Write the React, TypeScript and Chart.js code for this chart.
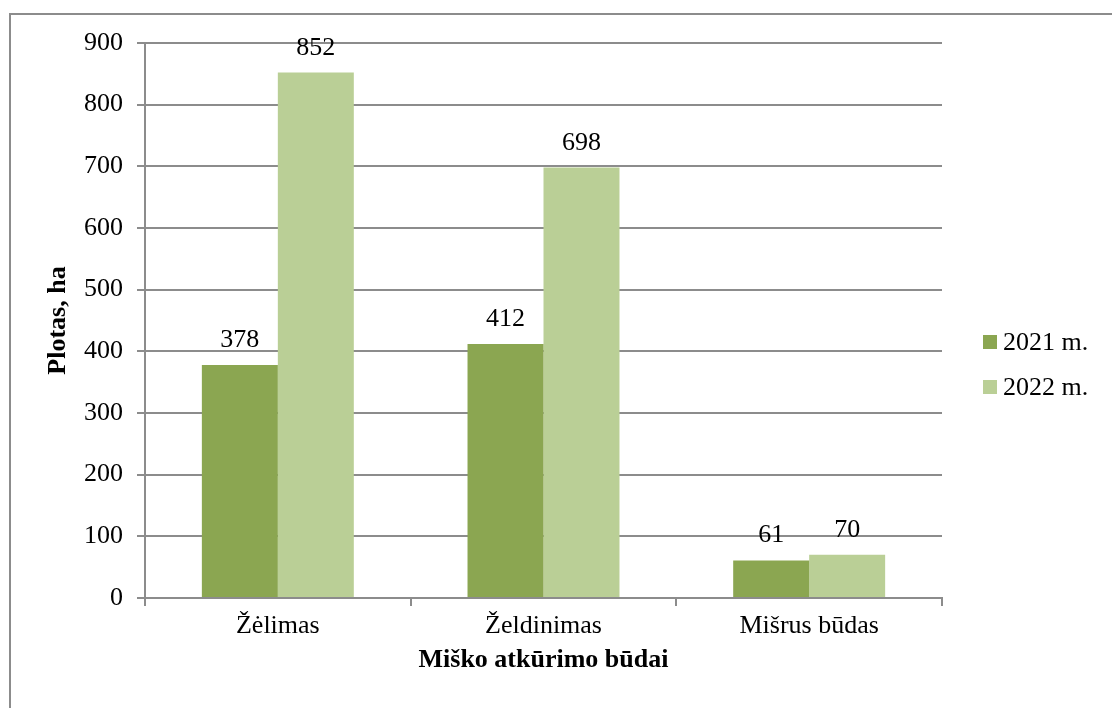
import React, { useEffect, useRef } from "react";
import { Chart, registerables } from "chart.js";

Chart.register(...registerables);

const categories = ["Žėlimas", "Želdinimas", "Mišrus būdas"];
const seriesNames = ["2021 m.", "2022 m."];
const values2021 = [378, 412, 61];
const values2022 = [852, 698, 70];
const seriesColors = ["#8BA651", "#BACF96"];
const yTicks = [0, 100, 200, 300, 400, 500, 600, 700, 800, 900];

const FONT = "'Liberation Serif', 'Times New Roman', serif";
const GRID = "#8c8c8c";
const TEXT_SIZE = 26;
const TITLE_SIZE = 26;

const framePlugin = {
  id: "frame",
  beforeDraw(chart: any) {
    const ctx = chart.ctx;
    ctx.save();
    ctx.fillStyle = "#ffffff";
    ctx.fillRect(0, 0, chart.width, chart.height);
    ctx.strokeStyle = "#8c8c8c";
    ctx.lineWidth = 2;
    ctx.strokeRect(10, 14, chart.width + 50, chart.height + 50);
    ctx.restore();
  },
};

const labelsPlugin = {
  id: "valueLabels",
  afterDatasetsDraw(chart: any) {
    const ctx = chart.ctx;
    ctx.save();
    ctx.font = `${TEXT_SIZE}px ${FONT}`;
    ctx.fillStyle = "#000";
    ctx.textAlign = "center";
    ctx.textBaseline = "alphabetic";
    chart.data.datasets.forEach((ds: any, i: number) => {
      const meta = chart.getDatasetMeta(i);
      meta.data.forEach((bar: any, j: number) => {
        ctx.fillText(String(ds.data[j]), bar.x, bar.y - 18);
      });
    });
    ctx.restore();
  },
};

const legendPlugin = {
  id: "customLegend",
  afterDraw(chart: any) {
    const ctx = chart.ctx;
    ctx.save();
    ctx.font = `${TEXT_SIZE}px ${FONT}`;
    ctx.textAlign = "left";
    ctx.textBaseline = "middle";
    chart.data.datasets.forEach((ds: any, i: number) => {
      const cy = 342 + i * 45;
      ctx.fillStyle = ds.backgroundColor;
      ctx.fillRect(983, cy - 7, 14, 14);
      ctx.fillStyle = "#000";
      ctx.fillText(ds.label, 1003, cy + 1);
    });
    ctx.restore();
  },
};

export default function App() {
  const ref = useRef<HTMLCanvasElement | null>(null);

  useEffect(() => {
    if (!ref.current) return;
    const chart = new Chart(ref.current, {
      type: "bar",
      data: {
        labels: categories,
        datasets: [
          { label: seriesNames[0], data: values2021, backgroundColor: seriesColors[0] },
          { label: seriesNames[1], data: values2022, backgroundColor: seriesColors[1] },
        ],
      },
      options: {
        animation: false,
        responsive: false,
        devicePixelRatio: 1,
        layout: { padding: { left: 0, top: 43, right: 170, bottom: 0 } },
        datasets: { bar: { categoryPercentage: 0.572, barPercentage: 1.0 } },
        plugins: {
          legend: { display: false },
          tooltip: { enabled: false },
        },
        scales: {
          x: {
            afterFit: (s: any) => { s.height = 110; },
            grid: {
              offset: true,
              drawOnChartArea: false,
              drawTicks: true,
              tickLength: 8,
              color: GRID,
              lineWidth: 2,
            },
            border: { color: GRID, width: 2 },
            ticks: {
              font: { family: FONT, size: TEXT_SIZE },
              color: "#000",
              padding: 5,
            },
            title: {
              display: true,
              text: "Miško atkūrimo būdai",
              font: { family: FONT, size: TITLE_SIZE, weight: "bold" },
              color: "#000",
              padding: { top: 0, bottom: 32 },
            },
          },
          y: {
            min: 0,
            max: 900,
            afterFit: (s: any) => { s.width = 145; },
            afterBuildTicks: (s: any) => { s.ticks = yTicks.map((v) => ({ value: v })); },
            grid: {
              color: GRID,
              lineWidth: 2,
              drawTicks: true,
              tickLength: 8,
            },
            border: { color: GRID, width: 2 },
            ticks: {
              font: { family: FONT, size: TEXT_SIZE },
              color: "#000",
              padding: 14,
            },
            title: {
              display: true,
              text: "Plotas, ha",
              font: { family: FONT, size: TITLE_SIZE, weight: "bold" },
              color: "#000",
              padding: { top: 43, bottom: 0 },
            },
          },
        },
      },
      plugins: [framePlugin, labelsPlugin, legendPlugin],
    } as any);
    return () => chart.destroy();
  }, []);

  return (
    <div style={{ position: "fixed", left: 0, top: 0, width: 1112, height: 708, overflow: "hidden", background: "#fff" }}>
      <canvas ref={ref} width={1112} height={708} style={{ width: 1112, height: 708, display: "block" }} />
    </div>
  );
}
